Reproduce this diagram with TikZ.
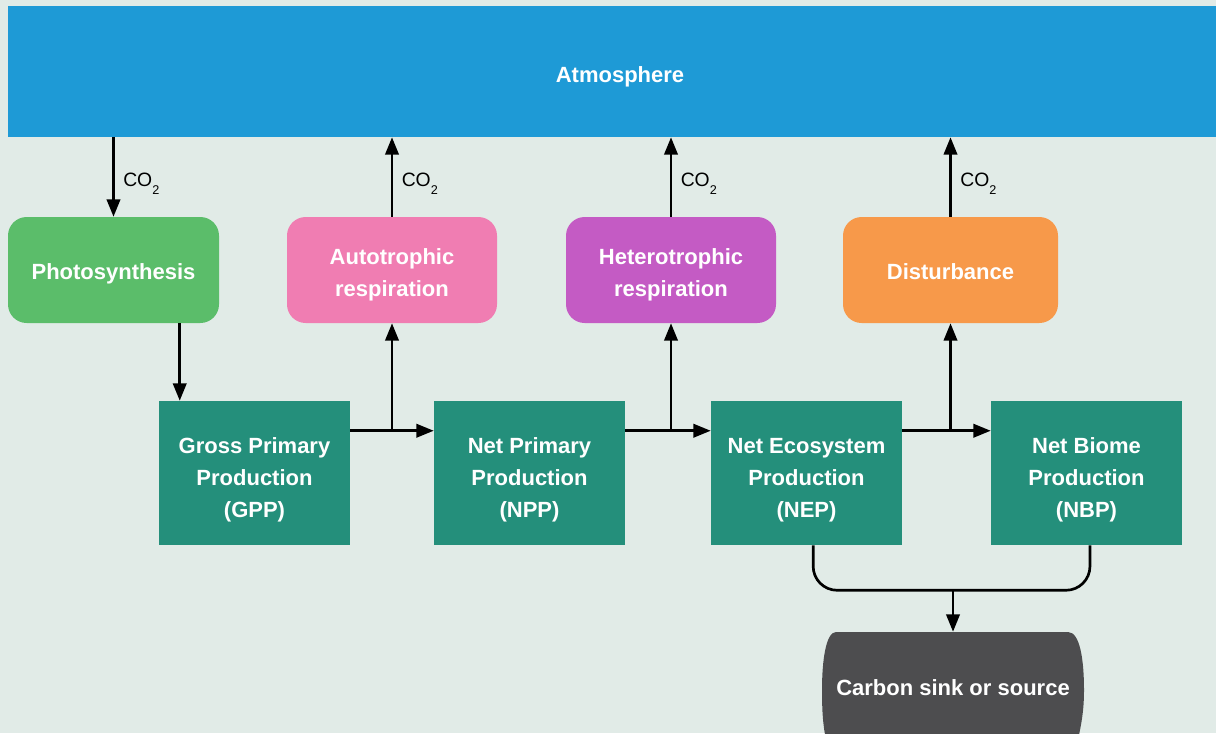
\documentclass[tikz,border=0pt]{standalone}
\usepackage{fontspec}
\setmainfont{Liberation Sans}
\usetikzlibrary{arrows.meta}

\definecolor{bgc}{RGB}{225,235,231}
\definecolor{atmoblue}{RGB}{30,154,214}
\definecolor{photogreen}{RGB}{91,189,106}
\definecolor{autopink}{RGB}{240,125,178}
\definecolor{heteropurple}{RGB}{196,91,196}
\definecolor{distorange}{RGB}{247,153,74}
\definecolor{prodteal}{RGB}{36,143,123}
\definecolor{sinkgrey}{RGB}{77,77,79}

\newcommand{\cotwolab}{CO\raisebox{-6.5pt}{\fontsize{9.5}{10}\selectfont 2}}

\begin{document}
\begin{tikzpicture}[x=0.75pt, y=-0.75pt,
    lab/.style={font=\fontsize{16.5}{24}\selectfont\bfseries, text=white, align=center, inner sep=0pt, text height=13.5pt, text depth=0pt},
    twolines/.style={text height=39pt},
    flux/.style={lab, rounded corners=14pt, minimum height=79.5pt},
    prod/.style={lab, fill=prodteal, minimum width=143.25pt, minimum height=108pt, text height=66pt},
    arr/.style={line width=2pt, -{Triangle[length=13pt,width=10pt]}},
    co2/.style={right, font=\fontsize{14.5}{16}\selectfont, xshift=3pt, yshift=-5pt}]
    % background
    \useasboundingbox (0, 0) rectangle (1216, 733);
    \clip            (0, 0) rectangle (1216, 733);
    \fill [bgc]      (0, 0) rectangle (1216, 733);
    % atmosphere
    \node [lab, fill=atmoblue, minimum width=918pt, minimum height=98.25pt, text height=15.75pt] (atm) at (620, 71.5) {Atmosphere};
    % fluxes
    \node [flux, fill=photogreen, minimum width=158.25pt]             (photo)  at (113.5, 270) {Photosynthesis};
    \node [flux, twolines, fill=autopink, minimum width=157.5pt]      (auto)   at (392, 270)   {Autotrophic\\respiration};
    \node [flux, twolines, fill=heteropurple, minimum width=157.5pt]  (hetero) at (671, 270)   {Heterotrophic\\respiration};
    \node [flux, fill=distorange, minimum width=161.25pt]             (dist)   at (950.5, 270) {Disturbance};
    % production
    \node [prod] (gpp) at (254.5, 473)  {Gross Primary\\Production\\(GPP)};
    \node [prod] (npp) at (529.5, 473)  {Net Primary\\Production\\(NPP)};
    \node [prod] (nep) at (806.5, 473)  {Net Ecosystem\\Production\\(NEP)};
    \node [prod] (nbp) at (1086.5, 473) {Net Biome\\Production\\(NBP)};
    % sink or source
    \fill [sinkgrey] (836, 632) -- (1068, 632) .. controls (1080, 632) and (1084, 660) .. (1084, 690)
                     .. controls (1084, 712) and (1081, 725) .. (1078, 740) -- (826, 740)
                     .. controls (823, 725) and (822, 712) .. (822, 690)
                     .. controls (822, 660) and (826, 632) .. (836, 632) -- cycle;
    \node [lab, minimum height=82.5pt, text height=12pt] (sink) at (953, 687) {Carbon sink or source};
    % CO2 exchange with the atmosphere
    \draw [arr]      (atm.south -| photo.north) -- node [co2] {\cotwolab} (photo.north);
    \draw [arr]      (auto.north)   -- node [co2] {\cotwolab} (auto.north |- atm.south);
    \draw [arr]      (hetero.north) -- node [co2] {\cotwolab} (hetero.north |- atm.south);
    \draw [arr]      (dist.north)   -- node [co2] {\cotwolab} (dist.north |- atm.south);
    % photosynthesis to GPP
    \coordinate (gin) at ([xshift=15.75pt]gpp.north west);
    \draw [arr]      (gin |- photo.south) -- (gin);
    % GPP -> NPP
    \coordinate (g1) at ([yshift=-22.5pt]gpp.north east);
    \draw [arr]      (g1) -- (g1 -| npp.west);
    \draw [arr]      (g1 -| auto.south) -- (auto.south);
    % NPP -> NEP
    \coordinate (n1) at ([yshift=-22.5pt]npp.north east);
    \draw [arr]      (n1) -- (n1 -| nep.west);
    \draw [arr]      (n1 -| hetero.south) -- (hetero.south);
    % NEP -> NBP
    \coordinate (e1) at ([yshift=-22.5pt]nep.north east);
    \draw [arr]      (e1) -- (e1 -| nbp.west);
    \draw [arr]      (e1 -| dist.south) -- (dist.south);
    % NEP and NBP to sink or source
    \coordinate (mrg) at ([yshift=-33.75pt]nep.south);
    \draw [line width=2pt, rounded corners=18pt] ([xshift=5pt]nep.south) -- ([xshift=5pt]mrg) -| ([xshift=2.6pt]nbp.south);
    \draw [arr]      (mrg -| sink.north) -- (sink.north);
\end{tikzpicture}
\end{document}
